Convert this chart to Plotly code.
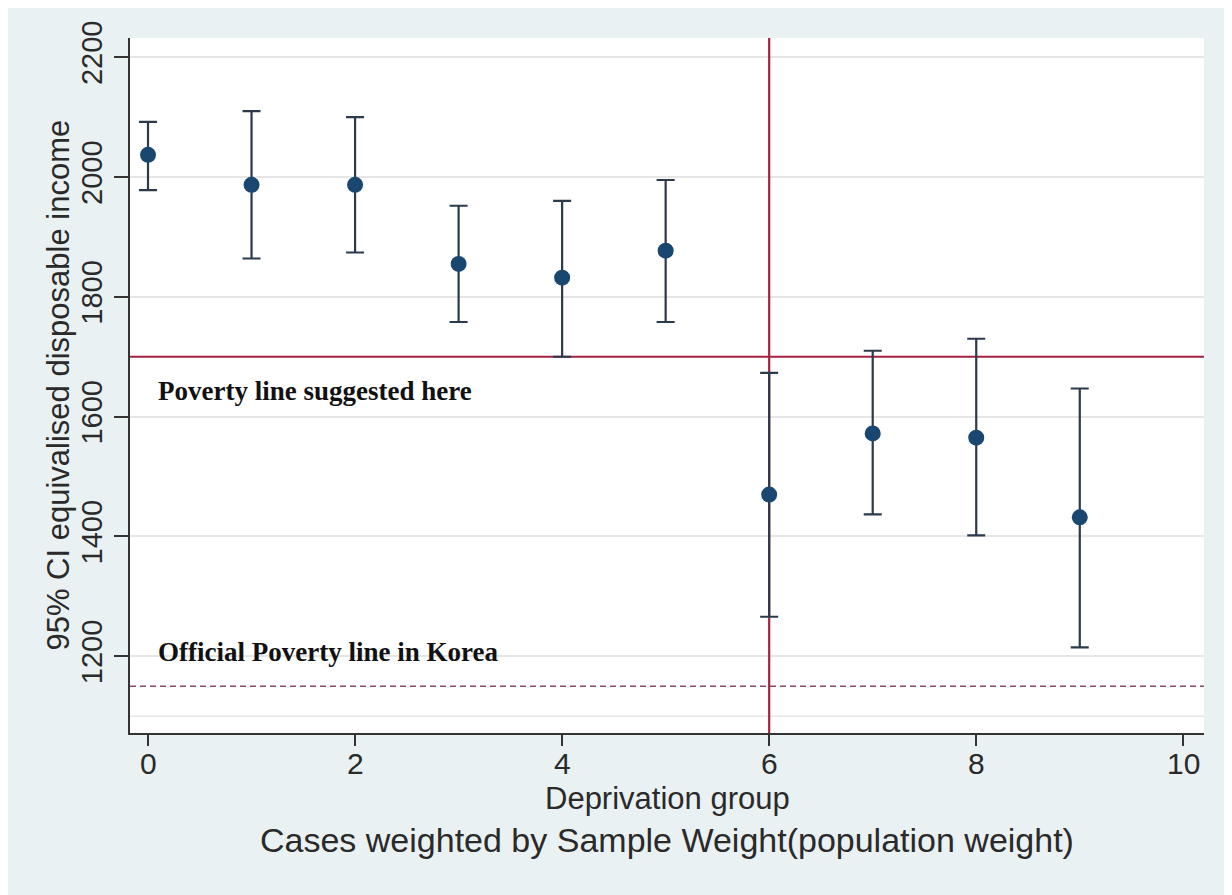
import plotly.graph_objects as go

# ---- data ----
groups = [0, 1, 2, 3, 4, 5, 6, 7, 8, 9]
mean_income = [2037, 1987, 1987, 1855, 1832, 1877, 1470, 1572, 1565, 1432]
upper_ci = [2092, 2110, 2100, 1952, 1960, 1995, 1673, 1710, 1730, 1647]
lower_ci = [1978, 1864, 1874, 1758, 1700, 1758, 1266, 1437, 1402, 1215]

suggested_line = 1700
official_line = 1150
cutoff_group = 6
extra_grid = 1100

x_ticks = [0, 2, 4, 6, 8, 10]
x_tick_labels = ["0", "2", "4", "6", "8", "10"]
y_ticks = [1200, 1400, 1600, 1800, 2000, 2200]
x_range = [-0.174, 10.2]
y_range = [1072, 2232]

navy = "#1A476F"
bar_col = "#2B3A4C"
red = "#A3223F"
txt = "#2a2a2a"
region_bg = "#EAF1F3"

err_plus = [u - m for u, m in zip(upper_ci, mean_income)]
err_minus = [m - l for m, l in zip(mean_income, lower_ci)]

fig = go.Figure()
fig.add_trace(go.Scatter(
    x=groups, y=mean_income, mode="markers",
    marker=dict(color=navy, size=16, line=dict(width=0)),
    error_y=dict(type="data", symmetric=False, array=err_plus, arrayminus=err_minus,
                 color=bar_col, thickness=2.2, width=9),
    showlegend=False, hoverinfo="skip",
))

shapes = [
    dict(type="line", xref="x", yref="y", x0=x_range[0], x1=x_range[1], y0=extra_grid, y1=extra_grid,
         line=dict(color="#E6E6E6", width=1.5), layer="between"),
    dict(type="line", xref="x", yref="y", x0=x_range[0], x1=x_range[1], y0=suggested_line, y1=suggested_line,
         line=dict(color=red, width=2.2), layer="between"),
    dict(type="line", xref="x", yref="y", x0=cutoff_group, x1=cutoff_group, y0=y_range[0], y1=y_range[1],
         line=dict(color=red, width=2.2), layer="between"),
    dict(type="line", xref="x", yref="y", x0=x_range[0], x1=x_range[1], y0=official_line, y1=official_line,
         line=dict(color="#8A4A5C", width=1.6, dash="6px,4px"), layer="between"),
]

annotations = [
    dict(text="<b>Poverty line suggested here</b>", xref="paper", yref="y", x=0.024, y=1643,
         xanchor="left", yanchor="middle", showarrow=False,
         font=dict(family="Liberation Serif", size=27, color="#111111")),
    dict(text="<b>Official Poverty line in Korea</b>", xref="paper", yref="y", x=0.024, y=1208,
         xanchor="left", yanchor="middle", showarrow=False,
         font=dict(family="Liberation Serif", size=27, color="#111111")),
    dict(text="Deprivation group", xref="paper", yref="paper", x=0.5, y=-0.094,
         xanchor="center", yanchor="middle", showarrow=False,
         font=dict(family="Liberation Sans", size=31, color=txt)),
    dict(text="Cases weighted by Sample Weight(population weight)", xref="paper", yref="paper",
         x=0.5, y=-0.154, xanchor="center", yanchor="middle", showarrow=False,
         font=dict(family="Liberation Sans", size=34, color=txt)),
    dict(text="95% CI equivalised disposable income", xref="paper", yref="paper",
         x=-0.067, y=0.5, xanchor="center", yanchor="middle", textangle=-90, showarrow=False,
         font=dict(family="Liberation Sans", size=31, color=txt)),
]
# x tick labels placed at the axis' own tick values
for tv, tl in zip(x_ticks, x_tick_labels):
    annotations.append(dict(text=tl, xref="x", yref="paper", x=tv, y=-0.044,
                            xanchor="center", yanchor="middle", showarrow=False,
                            font=dict(family="Liberation Sans", size=30, color=txt)))

fig.update_layout(
    width=1224, height=887,
    margin=dict(l=122, r=28, t=30, b=162),
    paper_bgcolor=region_bg, plot_bgcolor="white",
    shapes=shapes, annotations=annotations,
    font=dict(family="Liberation Sans", color=txt),
)
fig.update_xaxes(
    range=x_range, tickvals=x_ticks, showticklabels=False, showgrid=False, zeroline=False,
    showline=True, linecolor="#333333", linewidth=2,
    ticks="outside", ticklen=11, tickwidth=2, tickcolor="#333333",
)
fig.update_yaxes(
    range=y_range, tickvals=y_ticks, showgrid=True, gridcolor="#E6E6E6", gridwidth=1.5,
    zeroline=False, showline=True, linecolor="#333333", linewidth=2,
    ticks="outside", ticklen=14, tickwidth=2, tickcolor="#333333",
    tickangle=-90, tickfont=dict(size=29, color=txt),
)

fig.write_html("out.html")
